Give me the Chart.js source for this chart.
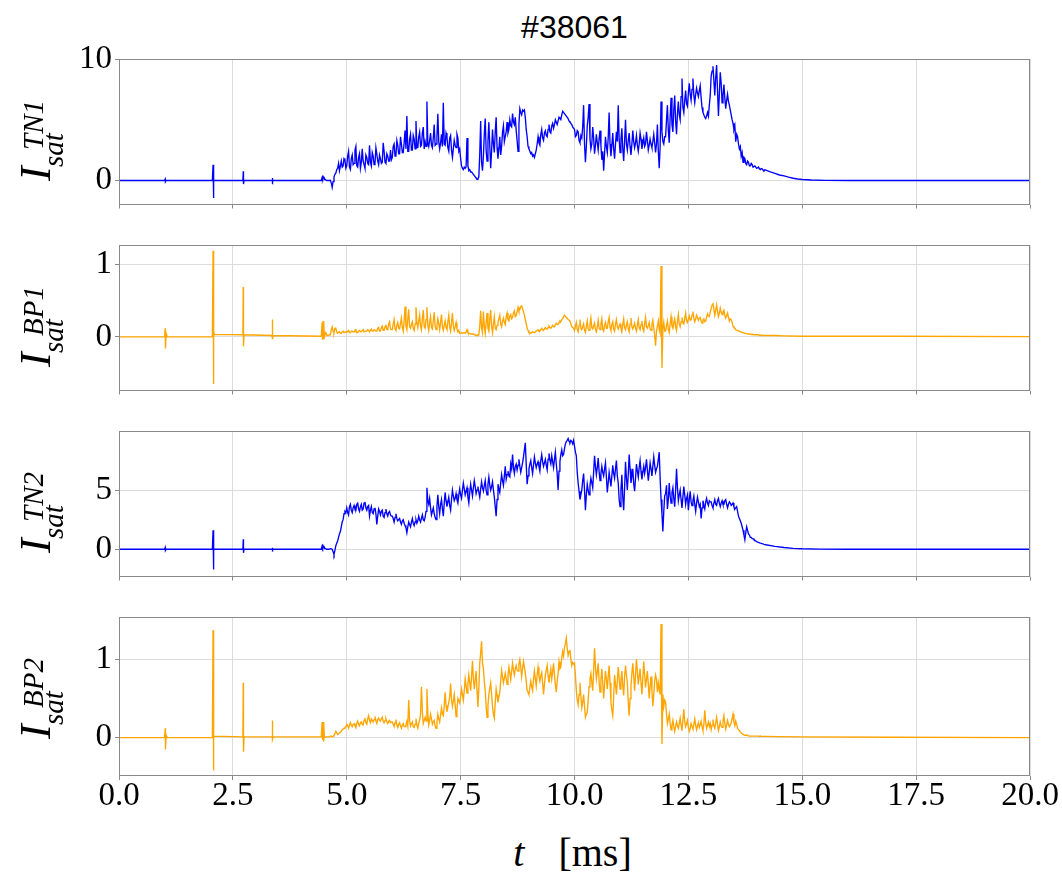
<!DOCTYPE html>
<html>
<head>
<meta charset="utf-8">
<title>#38061</title>
<script src="https://cdn.jsdelivr.net/npm/chart.js@4/dist/chart.umd.min.js"></script>
<style>
  html, body { margin: 0; padding: 0; background: #fff; }
  #fig { position: relative; width: 1062px; height: 877px; overflow: hidden; background: #fff; }
  #fig canvas { position: absolute; left: 0; }
  #title {
    position: absolute; left: 424.5px; width: 300px; top: 10.8px;
    text-align: center; font: 32px/1 "Liberation Sans", Arial, sans-serif; color: #000;
  }
  #xlab {
    position: absolute; left: 422.5px; width: 300px; top: 833px;
    text-align: center; font: 40px/1 "Liberation Serif", "DejaVu Serif", serif; color: #000;
    white-space: nowrap;
  }
  #xlab i { margin-right: 34px; }
  .ylab {
    position: absolute; left: -1px; width: 84px; height: 48px;
    transform: rotate(-90deg); transform-origin: 50% 50%;
    font-family: "Liberation Serif", "DejaVu Serif", serif; font-style: italic; color: #000;
    white-space: nowrap;
  }
  .ylab span { position: absolute; line-height: 1; }
  .ylab .big { left: 0; top: -3.5px; font-size: 44px; }
  .ylab .sup { left: 31px; top: 1.5px; font-size: 29px; }
  .ylab .sub { left: 14px; top: 21.8px; font-size: 29px; }
</style>
</head>
<body>
<div id="fig">
  <div id="title">#38061</div>
  <div id="xlab"><i>t</i>[ms]</div>
</div>
<script>
// ---------------------------------------------------------------
// Shot #38061 – ion saturation current of four probes, t in ms
// Each channel: sparse points outside the sampled window (edge arrays)
// plus a window sampled every SAMPLE_STEP from SAMPLE_START.
// ---------------------------------------------------------------
const SAMPLE_START = 4.60;   // ms
const SAMPLE_STEP  = 0.02;   // ms

const timeTicks = [0, 2.5, 5, 7.5, 10, 12.5, 15, 17.5, 20];

const ticksTN1 = [0, 10];
const ticksBP1 = [0, 1];
const ticksTN2 = [0, 5];
const ticksBP2 = [0, 1];
const rangeTN1 = [-1.98, 10.0];
const rangeBP1 = [-0.74, 1.27];
const rangeTN2 = [-2.3, 9.99];
const rangeBP2 = [-0.49, 1.54];

// ---- TN1 ----
const edgeTimeTN1 = [0, 1.00, 1.015, 1.02, 1.035, 2.05, 2.065, 2.07, 2.085, 2.72, 2.728, 2.733, 2.745,
  3.36, 3.368, 3.372, 3.385, 4.44, 4.46, 4.47, 4.48, 4.49, 4.50, 4.52, 4.56,
  14.30, 14.40, 14.50, 14.60, 14.70, 14.80, 14.90, 15.00, 15.20, 15.50, 16.00, 20.00];
const edgeValTN1 = [0, 0, 0.12, -0.1, 0, 0, 1.3, -1.45, 0, 0, 0.75, -0.3, 0,
  0, 0.2, -0.1, 0, 0, 0.25, 0.15, 0.32, 0.2, 0.3, 0.1, 0,
  0.7, 0.58, 0.45, 0.37, 0.27, 0.18, 0.12, 0.08, 0.04, 0.01, 0, 0];
const samplesTN1 = [
  0, 0, 0.02, -0.2, -0.57, -0.1, 0.3, 0.5, 0.6, 0.9, 1.0, 1.4, 0.8, 1.2, 1.6, 1.1, 1.2, 1.8, 1.7, 1.0,
  1.2, 2.0, 2.4, 1.1, 0.9, 1.8, 2.1, 1.3, 1.4, 2.5, 2.8, 1.2, 1.1, 1.9, 2.2, 1.0, 1.5, 2.6, 1.6, 1.3, 1.0, 2.1, 1.9, 1.4, 1.3,
  2.9, 1.5, 1.2, 2.3, 2.0, 1.3, 1.4, 2.7, 2.2, 1.6, 1.3, 2.1, 1.8, 1.4, 1.5, 3.1, 2.4, 1.5, 1.4, 2.2, 2.0, 1.6, 1.6, 2.5, 1.7,
  1.9, 2.8, 3.0, 2.0, 2.1, 3.3, 2.9, 2.2, 2.2, 3.6, 3.0, 2.3, 2.3, 3.1, 4.1, 2.6, 5.3, 2.4, 2.4, 3.4, 3.8, 2.5, 2.5, 3.7, 3.4,
  2.6, 4.9, 2.7, 2.7, 3.6, 4.0, 2.8, 2.9, 3.9, 4.4, 2.6, 3.2, 2.8, 6.5, 3.1, 2.8, 3.3, 3.9, 2.9, 2.7, 3.5, 4.6, 2.9, 3.0, 3.6,
  5.5, 3.2, 2.6, 3.1, 3.8, 2.8, 6.4, 3.0, 2.9, 3.9, 3.6, 2.7, 2.4, 3.5, 3.7, 2.5, 1.9, 2.6, 3.3, 2.9, 2.7, 3.8, 3.5, 2.4, 2.6,
  1.8, 1.2, 1.0, 0.9, 1.1, 1.0, 1.1, 3.5, 1.2, 0.8, 0.9, 0.7, 0.7, 0.6, 0.5, 0.4, 0.3, 0.2, 0.1, 0.15, 0.3, 2.2, 4.9, 1.5, 0.8,
  2.0, 3.8, 5.1, 2.5, 1.6, 3.2, 4.8, 2.9, 1.0, 2.4, 4.2, 3.0, 2.3, 4.0, 5.2, 2.7, 1.8, 2.6, 3.6, 2.1, 2.8, 4.0, 4.5, 3.2, 3.6,
  4.0, 4.8, 3.9, 4.2, 5.0, 4.5, 4.4, 5.5, 4.8, 4.6, 5.2, 4.1, 3.3, 2.4, 4.6, 5.9, 5.6, 5.4, 5.8, 5.7, 5.8, 5.2, 4.2, 3.6, 2.8,
  2.6, 2.4, 2.2, 2.3, 2.0, 2.1, 1.9, 2.2, 2.5, 3.0, 3.6, 3.1, 2.9, 3.8, 4.2, 3.5, 3.3, 3.9, 4.1, 3.7, 3.6, 4.2, 4.6, 4.0, 3.9,
  4.5, 4.7, 4.3, 4.6, 5.0, 4.8, 4.6, 4.9, 5.2, 5.1, 5.0, 5.4, 5.7, 5.6, 5.5, 5.4, 5.3, 5.2, 5.1, 4.9, 4.8, 4.7, 4.6, 4.4, 4.3,
  4.2, 3.6, 3.7, 4.1, 4.0, 3.3, 3.1, 3.7, 3.5, 4.4, 6.2, 3.0, 1.5, 2.8, 4.5, 5.2, 6.3, 3.4, 2.6, 3.0, 4.4, 3.5, 2.2, 2.9, 3.8,
  3.1, 2.5, 3.4, 4.1, 2.9, 1.7, 2.4, 0.8, 2.2, 3.6, 2.8, 2.3, 3.5, 5.6, 3.0, 2.0, 2.9, 3.9, 2.6, 1.8, 3.0, 4.0, 3.2, 6.2, 3.4,
  2.3, 3.4, 4.3, 2.6, 1.6, 3.2, 5.0, 3.0, 2.5, 3.3, 3.9, 2.8, 2.1, 3.0, 4.1, 3.2, 2.7, 3.1, 3.7, 2.9, 2.4, 3.0, 3.9, 3.4, 2.6,
  3.1, 3.5, 2.8, 3.0, 4.0, 3.3, 2.5, 2.9, 3.4, 3.0, 2.7, 3.2, 3.8, 3.1, 2.3, 3.0, 4.6, 2.4, 1.0, 2.8, 6.5, 4.0, 3.2, 3.0, 3.6,
  3.6, 5.0, 6.2, 4.1, 3.1, 5.2, 6.8, 4.6, 4.0, 5.8, 7.0, 4.9, 3.8, 5.5, 6.5, 5.4, 5.0, 6.9, 8.4, 6.0, 5.6, 6.6, 7.4, 6.3, 6.1,
  7.2, 8.0, 7.1, 6.6, 7.5, 8.4, 7.0, 6.4, 7.1, 7.6, 7.2, 6.9, 7.4, 7.8, 6.8, 6.0, 5.6, 5.4, 5.2, 5.1, 5.3, 5.6, 5.3, 6.2, 7.0,
  8.6, 9.0, 9.4, 8.2, 7.0, 8.5, 9.5, 7.4, 5.3, 7.1, 8.9, 8.0, 6.4, 7.0, 7.9, 6.8, 5.9, 6.6, 7.1, 6.5, 6.2, 5.8, 5.4, 5.0, 4.7,
  4.2, 4.5, 3.2, 3.8, 3.6, 3.0, 2.6, 2.8, 2.0, 2.3, 1.5, 1.9, 1.8, 1.4, 1.3, 1.6, 1.5, 1.2, 1.2, 1.4, 1.3, 1.1, 1.1, 1.2, 1.1,
  1.0, 1.05, 1.1, 0.95, 0.9, 0.98, 0.95, 0.85, 0.8, 0.88, 0.85
];

// ---- BP1 ----
const edgeTimeBP1 = [0, 1.00, 1.015, 1.02, 1.035, 1.06, 2.05, 2.065, 2.07, 2.085, 2.10, 2.72, 2.728, 2.733, 2.745,
  3.36, 3.368, 3.372, 3.385, 4.44, 4.46, 4.47, 4.48, 4.49, 4.50, 4.51, 4.54, 4.57,
  14.40, 14.60, 15.00, 17.00, 20.00];
const edgeValBP1 = [0, 0, 0.12, -0.16, 0.05, 0, 0, 1.19, -0.65, 0.06, 0.035, 0.03, 0.69, -0.13, 0.03,
  0.02, 0.24, -0.03, 0.02, 0.01, 0.2, -0.04, 0.22, -0.03, 0.18, 0.0, 0.06, 0.02,
  0.02, 0.015, 0.01, 0.01, 0.005];
const samplesBP1 = [
  0.02, 0.03, 0.03, 0.10, 0.14, 0.08, 0.06, 0.12, 0.12, 0.07, 0.05, 0.06, 0.07, 0.05, 0.05, 0.07, 0.08, 0.06, 0.06, 0.07,
  0.06, 0.08, 0.09, 0.06, 0.06, 0.08, 0.08, 0.07, 0.07, 0.09, 0.10, 0.06, 0.06, 0.08, 0.09, 0.07, 0.07, 0.09, 0.10, 0.07, 0.07, 0.08, 0.08, 0.10, 0.09,
  0.07, 0.09, 0.11, 0.08, 0.08, 0.10, 0.10, 0.08, 0.08, 0.12, 0.13, 0.08, 0.08, 0.13, 0.15, 0.09, 0.09, 0.14, 0.17, 0.10, 0.10, 0.18, 0.21, 0.11, 0.10,
  0.10, 0.18, 0.24, 0.11, 0.09, 0.16, 0.20, 0.12, 0.11, 0.19, 0.26, 0.13, 0.08, 0.22, 0.42, 0.15, 0.10, 0.25, 0.38, 0.14, 0.12, 0.17, 0.21, 0.12, 0.09,
  0.18, 0.41, 0.20, 0.13, 0.22, 0.30, 0.15, 0.10, 0.26, 0.37, 0.14, 0.12, 0.24, 0.41, 0.16, 0.09, 0.20, 0.28, 0.13, 0.11, 0.22, 0.34, 0.15, 0.10, 0.16,
  0.25, 0.18, 0.10, 0.20, 0.31, 0.14, 0.09, 0.16, 0.22, 0.13, 0.10, 0.21, 0.30, 0.14, 0.08, 0.19, 0.33, 0.15, 0.09, 0.14, 0.20, 0.11, 0.07, 0.09, 0.05,
  0.05, 0.06, 0.05, 0.06, 0.06, 0.05, 0.07, 0.10, 0.06, 0.05, 0.05, 0.04, 0.04, 0.04, 0.04, 0.03, 0.03, 0.02, 0.02, 0.03, 0.03, 0.15, 0.36, 0.12, 0.06,
  0.35, 0.15, 0.05, 0.20, 0.33, 0.12, 0.08, 0.25, 0.37, 0.14, 0.06, 0.18, 0.28, 0.12, 0.10, 0.16, 0.20, 0.25, 0.30, 0.18, 0.14, 0.22, 0.26, 0.20, 0.17,
  0.28, 0.33, 0.24, 0.22, 0.29, 0.31, 0.25, 0.27, 0.33, 0.36, 0.28, 0.29, 0.35, 0.41, 0.36, 0.38, 0.42, 0.43, 0.39, 0.35, 0.30, 0.24, 0.18, 0.12, 0.09,
  0.06, 0.06, 0.05, 0.06, 0.07, 0.06, 0.06, 0.07, 0.08, 0.09, 0.10, 0.08, 0.08, 0.10, 0.12, 0.10, 0.09, 0.11, 0.13, 0.11, 0.11, 0.13, 0.15, 0.13, 0.12,
  0.14, 0.16, 0.14, 0.14, 0.17, 0.19, 0.17, 0.17, 0.20, 0.22, 0.21, 0.24, 0.25, 0.28, 0.30, 0.28, 0.27, 0.26, 0.24, 0.23, 0.22, 0.18, 0.14, 0.13, 0.12,
  0.09, 0.15, 0.20, 0.10, 0.07, 0.16, 0.24, 0.12, 0.10, 0.14, 0.18, 0.09, 0.06, 0.15, 0.22, 0.11, 0.09, 0.17, 0.26, 0.13, 0.11, 0.15, 0.19, 0.10, 0.07,
  0.14, 0.23, 0.12, 0.10, 0.18, 0.25, 0.11, 0.08, 0.16, 0.20, 0.12, 0.12, 0.21, 0.27, 0.13, 0.09, 0.17, 0.21, 0.11, 0.08, 0.18, 0.24, 0.14, 0.11, 0.15,
  0.18, 0.12, 0.08, 0.17, 0.25, 0.13, 0.10, 0.16, 0.21, 0.11, 0.07, 0.18, 0.26, 0.14, 0.11, 0.15, 0.19, 0.12, 0.08, 0.16, 0.24, 0.13, 0.10, 0.17, 0.22,
  0.12, 0.08, 0.18, 0.27, 0.14, 0.12, 0.16, 0.20, 0.11, 0.09, 0.17, 0.23, 0.13, 0.02, -0.12, 0.08, 0.15, 0.22, 0.10, 0.05, 0.98, -0.43, 0.10, 0.20, 0.08,
  0.08, 0.16, 0.22, 0.10, 0.06, 0.18, 0.28, 0.15, 0.12, 0.20, 0.25, 0.14, 0.09, 0.22, 0.31, 0.18, 0.14, 0.21, 0.27, 0.19, 0.18, 0.26, 0.33, 0.22, 0.20,
  0.25, 0.29, 0.23, 0.24, 0.30, 0.35, 0.26, 0.21, 0.25, 0.30, 0.27, 0.23, 0.26, 0.27, 0.22, 0.19, 0.23, 0.25, 0.21, 0.22, 0.27, 0.32, 0.29, 0.28, 0.34,
  0.39, 0.44, 0.47, 0.38, 0.30, 0.37, 0.44, 0.35, 0.28, 0.33, 0.40, 0.34, 0.31, 0.35, 0.37, 0.30, 0.26, 0.29, 0.33, 0.27, 0.22, 0.25, 0.24, 0.20, 0.15,
  0.13, 0.12, 0.10, 0.09, 0.09, 0.08, 0.08, 0.07, 0.07, 0.06, 0.06, 0.06, 0.05, 0.05, 0.05, 0.04, 0.04, 0.04, 0.04, 0.03, 0.04, 0.03, 0.03, 0.03, 0.03,
  0.03, 0.03, 0.03, 0.02, 0.02, 0.03, 0.02, 0.02, 0.02, 0.02, 0.02
];

// ---- TN2 ----
const edgeTimeTN2 = [0, 1.00, 1.015, 1.02, 1.035, 2.05, 2.065, 2.07, 2.085, 2.72, 2.728, 2.733, 2.745,
  3.36, 3.368, 3.372, 3.385, 4.44, 4.46, 4.47, 4.48, 4.49, 4.50, 4.52, 4.56,
  14.40, 14.60, 14.80, 15.00, 15.40, 16.00, 20.00];
const edgeValTN2 = [0, 0, 0.15, -0.1, 0, 0, 1.6, -1.7, 0, 0, 0.85, -0.3, 0,
  0, 0.12, -0.06, 0, 0, 0.28, 0.15, 0.3, 0.18, 0.28, 0.08, 0,
  0.25, 0.15, 0.08, 0.04, 0.01, 0, 0];
const samplesTN2 = [
  0.0, 0.02, 0.05, 0.03, 0.0, -0.2, -0.45, -0.1, 0.3, 0.5, 0.7, 1.0, 1.3, 1.5, 1.9, 2.3, 2.5, 3.0, 3.2, 3.1,
  3.5, 3.1, 2.9, 3.6, 3.8, 3.3, 3.1, 3.5, 3.7, 3.4, 3.3, 3.8, 3.9, 3.4, 3.2, 3.6, 3.8, 3.3, 3.4, 3.9, 4.0, 3.5, 3.3, 3.6, 3.7,
  2.8, 3.3, 3.6, 3.1, 3.0, 3.4, 3.5, 3.0, 2.1, 2.8, 3.4, 3.2, 2.9, 3.2, 3.3, 2.8, 2.7, 3.1, 3.4, 3.0, 2.8, 3.1, 3.2, 2.9, 2.8,
  2.8, 2.6, 2.3, 2.7, 3.0, 2.6, 2.4, 2.5, 2.6, 2.3, 2.1, 2.4, 2.5, 2.2, 2.0, 1.8, 1.4, 1.9, 2.3, 2.1, 1.9, 2.3, 2.6, 2.2, 2.0,
  2.3, 2.5, 2.2, 2.4, 2.8, 2.5, 2.3, 2.6, 2.9, 2.5, 2.4, 2.7, 3.2, 5.2, 4.1, 3.8, 4.3, 3.5, 2.9, 3.2, 3.5, 3.0, 2.7, 2.5, 3.6,
  4.6, 3.6, 3.0, 3.8, 4.2, 3.4, 2.8, 3.9, 4.8, 4.1, 3.6, 4.0, 4.4, 3.7, 3.3, 4.2, 5.0, 4.5, 4.1, 4.3, 4.7, 4.2, 3.9, 4.6, 5.1,
  4.6, 4.3, 5.0, 5.6, 5.1, 4.6, 4.9, 5.2, 4.4, 3.9, 4.8, 5.5, 5.0, 4.5, 5.2, 5.8, 5.3, 4.7, 5.0, 5.3, 4.8, 4.4, 5.1, 5.7, 5.2,
  4.9, 5.4, 5.8, 5.0, 4.6, 5.5, 6.1, 5.4, 5.0, 5.3, 5.7, 5.0, 4.4, 3.6, 2.8, 4.2, 5.5, 5.1, 4.8, 5.6, 6.3, 5.8, 5.4, 6.2, 7.0,
  5.9, 6.3, 6.6, 6.2, 6.1, 7.2, 6.8, 8.0, 6.9, 6.4, 7.0, 7.2, 6.7, 7.1, 7.6, 7.0, 6.5, 6.9, 7.3, 7.8, 8.4, 9.0, 7.2, 5.5, 6.2,
  6.8, 7.2, 7.5, 6.9, 6.4, 7.1, 7.8, 7.3, 6.9, 7.2, 7.4, 7.0, 6.6, 7.5, 8.0, 7.4, 7.0, 7.3, 7.6, 7.1, 6.7, 7.6, 8.1, 7.5, 7.2,
  7.9, 7.4, 6.9, 7.6, 8.2, 7.2, 6.4, 5.0, 6.6, 7.4, 8.0, 8.4, 7.9, 8.0, 8.5, 8.9, 9.1, 9.2, 9.35, 9.1, 9.0, 9.2, 9.1, 8.9, 9.2,
  8.7, 8.2, 7.9, 6.5, 5.6, 4.9, 4.2, 4.6, 5.0, 5.8, 6.4, 5.0, 3.3, 4.6, 5.5, 5.0, 4.6, 5.4, 6.0, 5.6, 5.2, 6.5, 7.9, 7.0, 6.3,
  6.9, 7.7, 6.6, 5.8, 6.4, 7.0, 6.5, 6.2, 6.8, 7.3, 6.1, 4.8, 5.6, 6.5, 5.9, 5.3, 6.2, 7.1, 6.4, 6.0, 6.8, 7.5, 6.2, 5.6, 4.2,
  3.6, 5.0, 6.3, 4.4, 3.3, 5.2, 7.4, 6.0, 5.0, 6.3, 8.0, 6.8, 5.6, 6.2, 6.8, 5.5, 4.9, 6.0, 7.2, 6.6, 6.1, 6.9, 7.5, 6.6, 5.9,
  6.5, 7.0, 6.4, 6.9, 7.6, 6.7, 5.8, 6.5, 7.3, 6.8, 6.2, 7.0, 7.8, 7.1, 6.5, 6.8, 7.0, 7.6, 8.2, 6.0, 4.2, 3.0, 1.5, 3.2, 4.5,
  4.7, 5.4, 3.4, 4.2, 5.6, 4.5, 3.9, 4.8, 5.2, 4.3, 3.6, 5.0, 6.8, 5.2, 4.1, 4.6, 5.0, 4.2, 3.5, 4.4, 5.3, 4.6, 3.8, 4.3, 4.6,
  3.3, 4.2, 4.9, 4.0, 3.7, 4.1, 4.5, 3.8, 3.2, 3.9, 4.4, 4.0, 3.6, 3.8, 2.6, 3.5, 4.1, 3.7, 3.4, 4.0, 4.3, 3.9, 3.7, 4.1, 4.0,
  4.0, 3.7, 3.5, 3.9, 4.2, 3.8, 3.7, 4.1, 4.3, 3.9, 3.6, 3.9, 4.1, 3.8, 3.8, 4.1, 4.2, 3.8, 3.5, 3.8, 4.0, 3.9, 3.7, 3.8, 3.9,
  3.6, 3.4, 3.5, 3.6, 3.2, 2.8, 2.6, 2.4, 2.2, 1.9, 1.6, 1.2, 0.8, 1.4, 1.9, 1.6, 1.3, 1.2, 1.0, 1.0, 0.9, 0.9, 0.8, 0.75, 0.7,
  0.65, 0.6, 0.58, 0.55, 0.52, 0.5, 0.47, 0.45, 0.42, 0.4, 0.38
];

// ---- BP2 ----
const edgeTimeBP2 = [0, 1.00, 1.015, 1.02, 1.035, 1.06, 2.05, 2.065, 2.07, 2.085, 2.72, 2.728, 2.733, 2.745,
  3.36, 3.368, 3.372, 3.385, 4.44, 4.46, 4.47, 4.48, 4.49, 4.50, 4.51, 4.55,
  14.50, 15.00, 17.00, 20.00];
const edgeValBP2 = [0, 0, 0.12, -0.15, 0.03, 0, 0, 1.37, -0.42, 0.02, 0.01, 0.7, -0.18, 0.01,
  0.01, 0.22, -0.02, 0.01, 0.01, 0.2, -0.03, 0.2, -0.05, 0.17, 0.0, 0.01,
  0.012, 0.01, 0.005, 0.0];
const samplesBP2 = [
  0.01, 0.01, 0.02, 0.02, 0.01, 0.02, 0.03, 0.05, 0.08, 0.06, 0.04, 0.05, 0.06, 0.07, 0.08, 0.10, 0.11, 0.12, 0.13, 0.14,
  0.17, 0.15, 0.12, 0.16, 0.19, 0.16, 0.14, 0.17, 0.18, 0.15, 0.13, 0.18, 0.21, 0.17, 0.15, 0.19, 0.20, 0.17, 0.16, 0.22, 0.25, 0.19, 0.17, 0.24, 0.28,
  0.22, 0.19, 0.24, 0.22, 0.20, 0.23, 0.27, 0.21, 0.18, 0.23, 0.25, 0.22, 0.21, 0.24, 0.26, 0.21, 0.19, 0.22, 0.24, 0.20, 0.18, 0.21, 0.22, 0.19, 0.20,
  0.20, 0.17, 0.14, 0.19, 0.23, 0.16, 0.13, 0.17, 0.19, 0.15, 0.12, 0.16, 0.18, 0.14, 0.14, 0.17, 0.21, 0.15, 0.48, 0.22, 0.15, 0.18, 0.20, 0.14, 0.13,
  0.17, 0.24, 0.16, 0.12, 0.18, 0.22, 0.30, 0.65, 0.33, 0.18, 0.22, 0.26, 0.21, 0.62, 0.30, 0.16, 0.22, 0.30, 0.24, 0.17, 0.20, 0.22, 0.15, 0.12, 0.20,
  0.30, 0.24, 0.20, 0.29, 0.38, 0.30, 0.28, 0.40, 0.58, 0.41, 0.33, 0.39, 0.45, 0.52, 0.69, 0.48, 0.40, 0.47, 0.55, 0.42, 0.27, 0.36, 0.50, 0.47, 0.44,
  0.52, 0.62, 0.55, 0.48, 0.60, 0.75, 0.66, 0.57, 0.69, 0.80, 0.70, 0.60, 0.78, 0.98, 0.75, 0.62, 0.74, 0.85, 0.60, 0.39, 0.62, 0.95, 1.08, 1.23, 0.95,
  0.88, 0.72, 0.60, 0.40, 0.26, 0.42, 0.55, 0.63, 0.70, 0.55, 0.40, 0.30, 0.25, 0.45, 0.62, 0.54, 0.45, 0.52, 0.58, 0.72, 0.86, 0.78, 0.70, 0.76, 0.82,
  0.75, 0.68, 0.80, 0.90, 0.82, 0.74, 0.85, 0.95, 0.86, 0.80, 0.88, 0.92, 0.86, 0.85, 0.94, 1.00, 0.90, 0.78, 0.88, 0.97, 0.90, 0.83, 0.72, 0.60, 0.58,
  0.55, 0.64, 0.72, 0.65, 0.60, 0.74, 0.85, 0.75, 0.66, 0.80, 0.90, 0.78, 0.72, 0.79, 0.83, 0.70, 0.55, 0.68, 0.80, 0.86, 0.92, 0.80, 0.70, 0.80, 0.88,
  0.75, 0.84, 0.95, 0.80, 0.68, 0.58, 0.72, 0.82, 0.97, 0.88, 0.90, 1.02, 1.10, 1.04, 1.15, 1.20, 1.27, 1.14, 1.05, 1.10, 1.12, 1.00, 0.92, 0.96, 0.94,
  0.95, 0.80, 0.60, 0.48, 0.42, 0.55, 0.70, 0.52, 0.38, 0.45, 0.55, 0.40, 0.26, 0.30, 0.32, 0.48, 0.65, 0.75, 0.82, 0.70, 0.60, 0.85, 1.14, 0.90, 0.75,
  0.84, 0.95, 0.72, 0.58, 0.74, 0.88, 0.70, 0.50, 0.68, 0.85, 0.75, 0.62, 0.78, 0.92, 0.70, 0.45, 0.35, 0.28, 0.52, 0.80, 0.68, 0.55, 0.72, 0.90, 0.76,
  0.62, 0.74, 0.85, 0.66, 0.54, 0.78, 0.92, 0.80, 0.70, 0.45, 0.28, 0.50, 0.66, 0.82, 0.95, 0.78, 0.60, 0.80, 1.00, 0.84, 0.68, 0.78, 0.88, 0.70, 0.55,
  0.76, 0.97, 0.80, 0.64, 0.75, 0.85, 0.68, 0.50, 0.66, 0.78, 0.60, 0.40, 0.55, 0.72, 0.80, 0.74, 0.58, 0.70, 0.62, 0.55, 1.45, -0.08, 0.55, 0.40, 0.48,
  0.45, 0.30, 0.18, 0.24, 0.30, 0.18, 0.10, 0.16, 0.22, 0.14, 0.08, 0.14, 0.20, 0.15, 0.12, 0.18, 0.25, 0.16, 0.09, 0.22, 0.36, 0.20, 0.14, 0.18, 0.22,
  0.13, 0.08, 0.12, 0.18, 0.14, 0.11, 0.17, 0.24, 0.16, 0.10, 0.15, 0.19, 0.13, 0.16, 0.21, 0.14, 0.09, 0.17, 0.35, 0.20, 0.12, 0.16, 0.20, 0.14, 0.18,
  0.10, 0.16, 0.23, 0.15, 0.12, 0.19, 0.26, 0.17, 0.09, 0.14, 0.20, 0.15, 0.13, 0.21, 0.28, 0.18, 0.11, 0.16, 0.22, 0.17, 0.14, 0.16, 0.19, 0.24, 0.30,
  0.20, 0.15, 0.21, 0.17, 0.12, 0.10, 0.09, 0.07, 0.06, 0.05, 0.04, 0.04, 0.03, 0.03, 0.03, 0.03, 0.02, 0.02, 0.02, 0.02, 0.02, 0.02, 0.02, 0.02, 0.02,
  0.02, 0.02, 0.02, 0.015, 0.02, 0.015, 0.015, 0.015, 0.015, 0.015, 0.015
];

// ---------------------------------------------------------------
// Merge edge points and the sampled window into one sorted series
function buildSeries(edgeT, edgeV, samples) {
  const pts = [];
  for (let i = 0; i < edgeT.length; i++) pts.push({ x: edgeT[i], y: edgeV[i] });
  for (let i = 0; i < samples.length; i++) {
    pts.push({ x: +(SAMPLE_START + i * SAMPLE_STEP).toFixed(4), y: samples[i] });
  }
  pts.sort((a, b) => a.x - b.x);
  return pts;
}

// ---------------------------------------------------------------
// Figure layout (pixels)
const FIG_W = 1062;
const PLOT_LEFT = 119;
const PLOT_RIGHT = 1030;
const GRID_COLOR = "#dcdcdc";
const SPINE_COLOR = "#8a8a8a";
const TICK_FONT = { family: "'Liberation Serif', 'DejaVu Serif', serif", size: 33, lineHeight: 1 };

const panels = [
  { name: "TN1", top: 59,  bottom: 218, range: rangeTN1, ticks: ticksTN1, color: "#0000ff",
    data: buildSeries(edgeTimeTN1, edgeValTN1, samplesTN1) },
  { name: "BP1", top: 245, bottom: 404, range: rangeBP1, ticks: ticksBP1, color: "#ffa500",
    data: buildSeries(edgeTimeBP1, edgeValBP1, samplesBP1) },
  { name: "TN2", top: 431, bottom: 590, range: rangeTN2, ticks: ticksTN2, color: "#0000ff",
    data: buildSeries(edgeTimeTN2, edgeValTN2, samplesTN2) },
  { name: "BP2", top: 617, bottom: 776, range: rangeBP2, ticks: ticksBP2, color: "#ffa500",
    data: buildSeries(edgeTimeBP2, edgeValBP2, samplesBP2) }
];

// Box around each plotting area (all four spines)
const framePlugin = {
  id: "frame",
  afterDraw(chart) {
    const { ctx, chartArea: a } = chart;
    ctx.save();
    ctx.strokeStyle = SPINE_COLOR;
    ctx.lineWidth = 1;
    ctx.strokeRect(Math.round(a.left) + 0.5, Math.round(a.top) + 0.5,
                   Math.round(a.right - a.left) - 1, Math.round(a.bottom - a.top) - 1);
    ctx.restore();
  }
};

const fig = document.getElementById("fig");
const PAD_TOP = 22;

panels.forEach((p, idx) => {
  const isLast = idx === panels.length - 1;
  const xAxisH = isLast ? 52 : 6;
  const plotH = p.bottom - p.top;

  const canvas = document.createElement("canvas");
  canvas.width = FIG_W;
  canvas.height = plotH + PAD_TOP + xAxisH;
  canvas.style.top = (p.top - PAD_TOP) + "px";
  fig.appendChild(canvas);

  // rotated y label  I_sat^{name}
  const lab = document.createElement("div");
  lab.className = "ylab";
  lab.style.top = ((p.top + p.bottom) / 2 - 24) + "px";
  lab.innerHTML = '<span class="big">I</span><span class="sup">' + p.name +
                  '</span><span class="sub">sat</span>';
  fig.appendChild(lab);

  new Chart(canvas, {
    type: "line",
    data: {
      datasets: [{
        data: p.data,
        borderColor: p.color,
        borderWidth: 1.35,
        pointRadius: 0,
        fill: false,
        tension: 0
      }]
    },
    options: {
      animation: false,
      responsive: false,
      devicePixelRatio: 1,
      parsing: false,
      events: [],
      layout: {
        autoPadding: false,
        padding: { left: 0, right: FIG_W - PLOT_RIGHT, top: PAD_TOP, bottom: 0 }
      },
      plugins: { legend: { display: false }, tooltip: { enabled: false }, title: { display: false } },
      scales: {
        x: {
          type: "linear",
          min: 0, max: 20,
          afterBuildTicks: s => { s.ticks = timeTicks.map(v => ({ value: v })); },
          afterFit: s => { s.height = xAxisH; },
          grid: { color: GRID_COLOR, lineWidth: 1, drawTicks: true, tickLength: 4, tickColor: SPINE_COLOR },
          border: { display: false },
          ticks: {
            display: isLast, autoSkip: false, maxRotation: 0, minRotation: 0,
            font: TICK_FONT, color: "#000", padding: 0,
            callback: v => Number(v).toFixed(1)
          }
        },
        y: {
          type: "linear",
          min: p.range[0], max: p.range[1],
          afterBuildTicks: s => { s.ticks = p.ticks.map(v => ({ value: v })); },
          afterFit: s => { s.width = PLOT_LEFT; },
          grid: { color: GRID_COLOR, lineWidth: 1, drawTicks: true, tickLength: 4, tickColor: SPINE_COLOR },
          border: { display: false },
          ticks: { font: TICK_FONT, color: "#000", padding: 3, callback: v => String(v) }
        }
      }
    },
    plugins: [framePlugin]
  });
});
</script>
</body>
</html>
